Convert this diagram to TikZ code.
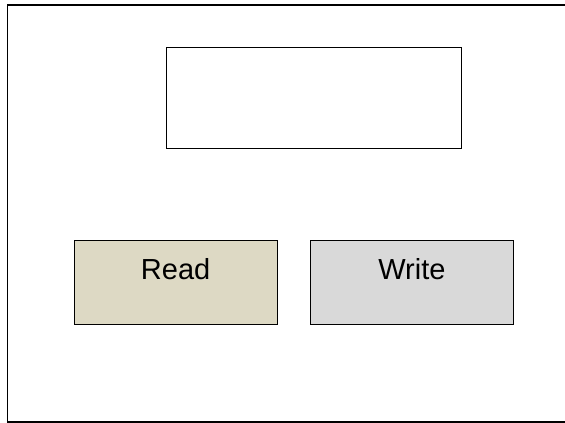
\documentclass[tikz,border=0pt]{standalone}
\usepackage{fontspec}
\setmainfont{Liberation Sans}
\usetikzlibrary{positioning}
\definecolor{sand}{RGB}{221,217,196}
\definecolor{ash}{RGB}{217,217,217}
\definecolor{ink}{RGB}{0,0,0}

\begin{document}
\begin{tikzpicture}[x=1pt,y=-1pt, every node/.style={font=\fontsize{29}{34}\selectfont},
  box/.style={rectangle,draw=ink,line width=1.3pt,inner sep=0pt,anchor=north west},
  op/.style={box,minimum width=203pt,minimum height=84pt,text height=21pt,text depth=27pt}]
  \useasboundingbox (0,0) rectangle (565,423);
  \draw[line width=1.3pt] (7.5,5) rectangle (575,422);
  \node[box,minimum width=295pt,minimum height=101pt] (top) at (166,46.5) {};
  \node[op,fill=sand] (read) at (73.5,239.5) {Read};
  \node[op,fill=ash,right=32pt of read] (write) {Write};
\end{tikzpicture}
\end{document}
